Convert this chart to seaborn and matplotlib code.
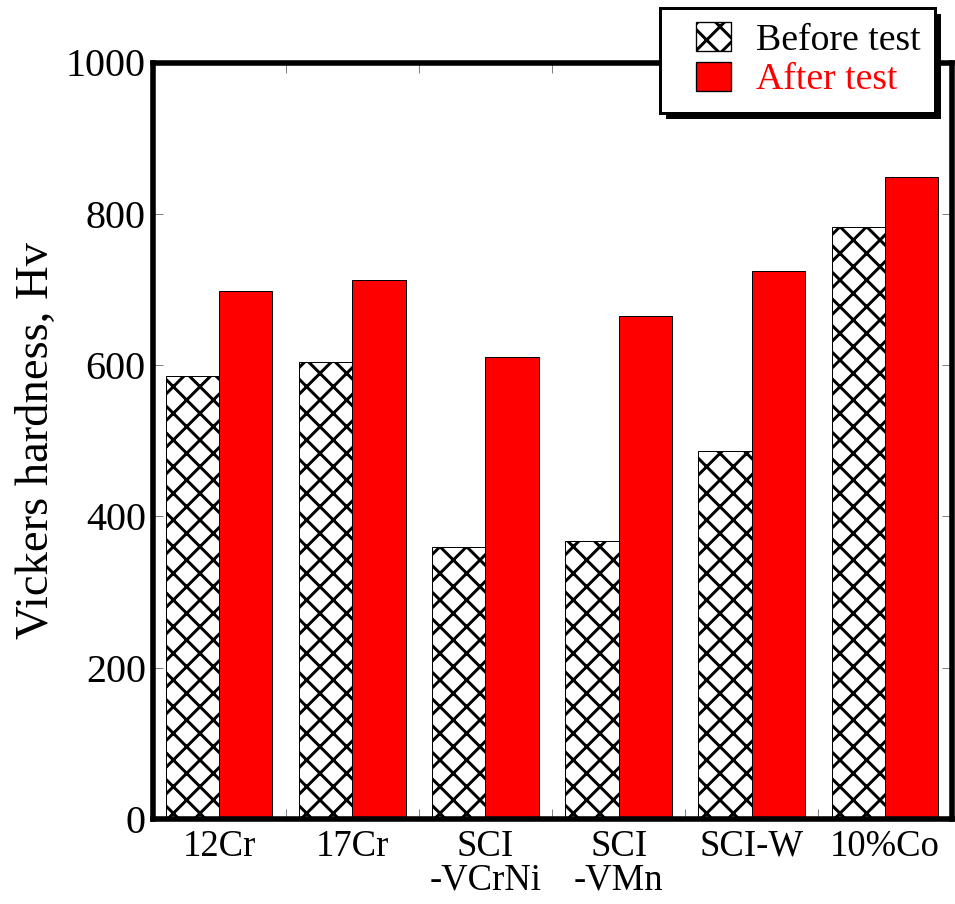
import numpy as np
import pandas as pd
import matplotlib
matplotlib.use("Agg")
import matplotlib.pyplot as plt
from matplotlib.patches import Patch, Rectangle
import seaborn as sns

# Vickers hardness of each material before and after the test
materials = ["12Cr", "17Cr", "SCI\n-VCrNi", "SCI\n-VMn", "SCI-W", "10%Co"]
before_test = [585, 604, 360, 367, 487, 783]
after_test = [698, 712, 611, 665, 725, 848]
conditions = ["Before test", "After test"]
y_ticks = [0, 200, 400, 600, 800, 1000]

df = pd.DataFrame({
    "material": materials * 2,
    "condition": [conditions[0]] * len(materials) + [conditions[1]] * len(materials),
    "hardness": before_test + after_test,
})

sns.set_theme(style="white")
plt.rcParams["font.family"] = ["Liberation Serif", "DejaVu Serif"]
plt.rcParams["hatch.linewidth"] = 2.7
plt.rcParams["text.color"] = "black"
plt.rcParams["axes.labelcolor"] = "black"
plt.rcParams["xtick.labelcolor"] = "black"
plt.rcParams["ytick.labelcolor"] = "black"

DPI = 80
W, H = 955, 904
fig = plt.figure(figsize=(W / DPI, H / DPI), dpi=DPI)
ax = fig.add_axes([152.5 / W, 1 - 819 / H, (951.5 - 152.5) / W, (819 - 62.5) / H])

sns.barplot(
    data=df, x="material", y="hardness", hue="condition",
    order=materials, hue_order=conditions,
    palette={"Before test": "white", "After test": "#ff0000"},
    saturation=1, edgecolor="black", linewidth=0.9, width=0.8,
    legend=False, ax=ax,
)
for bar in ax.containers[0]:
    bar.set_hatch("x")

ax.set_xlim(-0.5, len(materials) - 0.5)
ax.set_ylim(0, 1000)
ax.set_yticks(y_ticks)
ax.set_xticks(np.arange(len(materials)))
ax.set_xticklabels(materials, fontsize=33, linespacing=1.0)
ax.set_xticks(np.arange(len(materials) - 1) + 0.5, minor=True)
ax.set_xlabel("")
ax.set_ylabel("Vickers hardness, Hv", fontsize=42)
ax.yaxis.set_label_coords(-0.118, 0.5)

ax.tick_params(axis="x", which="major", length=0, pad=9)
ax.tick_params(axis="x", which="minor", direction="in", length=9, width=0.9,
               color="#808080", top=True, bottom=True)
ax.tick_params(axis="y", which="major", direction="in", length=9, width=0.9,
               color="#808080", left=True, right=True, labelsize=36, pad=6)

for side in ["left", "right", "top", "bottom"]:
    ax.spines[side].set_visible(True)
    ax.spines[side].set_color("black")
    ax.spines[side].set_linewidth(5)

# legend box with a solid drop shadow, drawn in figure pixels
box_x0, box_y0, box_w, box_h = 660, H - 113, 275, 105
shadow = Rectangle(((box_x0 + 6) / W, (box_y0 - 6) / H), box_w / W, box_h / H,
                   transform=fig.transFigure, facecolor="black",
                   edgecolor="none", zorder=8)
frame = Rectangle((box_x0 / W, box_y0 / H), box_w / W, box_h / H,
                  transform=fig.transFigure, facecolor="white",
                  edgecolor="black", linewidth=2.7, zorder=9)
fig.add_artist(shadow)
fig.add_artist(frame)

handles = [
    Patch(facecolor="white", edgecolor="black", hatch="x", linewidth=1.2),
    Patch(facecolor="#ff0000", edgecolor="black", linewidth=1.2),
]
leg = fig.legend(
    handles, conditions, loc="upper right",
    bbox_to_anchor=(932 / W, 1 - 11 / H), borderaxespad=0,
    fontsize=34, frameon=False,
    handlelength=0.95, handleheight=0.8, handletextpad=0.65,
    labelspacing=0.1, borderpad=0.3,
)
leg.get_texts()[1].set_color("#ff0000")
leg.set_zorder(10)

fig.savefig("out.png", dpi=DPI)
